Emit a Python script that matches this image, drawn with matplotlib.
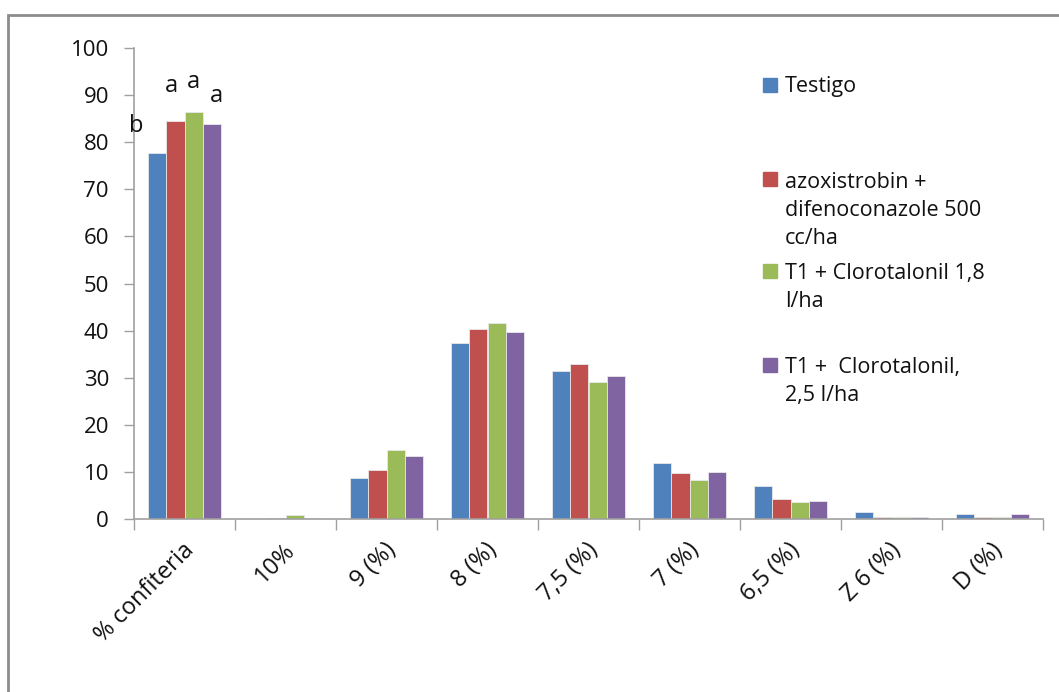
import matplotlib.pyplot as plt
import numpy as np
from matplotlib.patches import Rectangle

categories = ["% confiteria", "10%", "9 (%)", "8 (%)", "7,5 (%)", "7 (%)", "6,5 (%)", "Z 6 (%)", "D (%)"]
testigo = [77.8, 0.0, 8.6, 37.4, 31.4, 11.9, 7.1, 1.5, 1.0]
azox = [84.4, 0.3, 10.3, 40.3, 33.0, 9.8, 4.2, 0.5, 0.5]
t1_18 = [86.5, 0.8, 14.7, 41.6, 29.1, 8.3, 3.7, 0.5, 0.5]
t1_25 = [83.9, 0.3, 13.3, 39.6, 30.4, 10.0, 3.9, 0.5, 1.0]
series_labels = ["Testigo",
                 "azoxistrobin +\ndifenoconazole 500\ncc/ha",
                 "T1 + Clorotalonil 1,8\nl/ha",
                 "T1 +  Clorotalonil,\n2,5 l/ha"]
letters = ["b", "a", "a", "a"]

colors = ["#4F81BD", "#C0504D", "#9BBB59", "#8064A2"]
series = [testigo, azox, t1_18, t1_25]

W, H = 1059, 692
fig = plt.figure(figsize=(W / 100, H / 100), dpi=100)
ax = fig.add_axes([134 / W, 1 - 519 / H, (1043 - 134) / W, (519 - 48) / H])

x = np.arange(len(categories))
w = 0.182
for i, (vals, c) in enumerate(zip(series, colors)):
    ax.bar(x + (i - 1.5) * w, vals, width=w, color=c, edgecolor="#E8E8E8",
           linewidth=0.6, zorder=2)

# significance letters over the first group
letter_dx = [-0.2, -0.04, 0.0, 0.04]
letter_dy = [4.4, 6.3, 5.0, 4.6]
for i, lt in enumerate(letters):
    ax.text((i - 1.5) * w + letter_dx[i], series[i][0] + letter_dy[i], lt,
            ha="center", va="baseline", fontsize=17, family="Open Sans",
            color="#111111")

ax.set_xlim(-0.5, len(categories) - 0.5)
ax.set_ylim(0, 100)
ax.set_yticks(range(0, 101, 10))
ax.tick_params(axis="y", direction="out", length=7, width=1, color="#A0A0A0",
               labelsize=16, pad=11, labelcolor="#111111")
for lbl in ax.get_yticklabels():
    lbl.set_family("Open Sans")

ax.set_xticks(np.arange(-0.5, len(categories)))
ax.set_xticklabels([])
ax.tick_params(axis="x", direction="out", length=8, width=1, color="#A0A0A0")
for xi, cat in zip(x, categories):
    ax.annotate(cat, xy=(xi + 0.06, 0), xycoords=("data", "axes fraction"),
                xytext=(0, -20), textcoords="offset points", rotation=45,
                rotation_mode="anchor", ha="right", va="center",
                fontsize=17, family="Open Sans", color="#111111")

for side in ["top", "right"]:
    ax.spines[side].set_visible(False)
for side in ["left", "bottom"]:
    ax.spines[side].set_color("#A0A0A0")
    ax.spines[side].set_linewidth(1.2)

# legend drawn as separate entries, first-line baselines in pixels
leg_base = [92, 186, 278, 372]
line_px = 29
for c, lab, by in zip(colors, series_labels, leg_base):
    fig.patches.append(Rectangle((763 / W, 1 - by / H), 14 / W, 14 / H,
                                 transform=fig.transFigure, color=c))
    last = by + line_px * lab.count("\n")
    fig.text(785 / W, 1 - last / H, lab, ha="left", va="baseline", fontsize=15.5,
             family="Open Sans", color="#111111", linespacing=1.43)

# chart area border
fig.patches.append(Rectangle((8 / W, -0.1), 1.2, 1.1 - 15 / H,
                             transform=fig.transFigure, fill=False,
                             edgecolor="#8C8C8C", linewidth=2))

fig.savefig("out.png", dpi=100)
